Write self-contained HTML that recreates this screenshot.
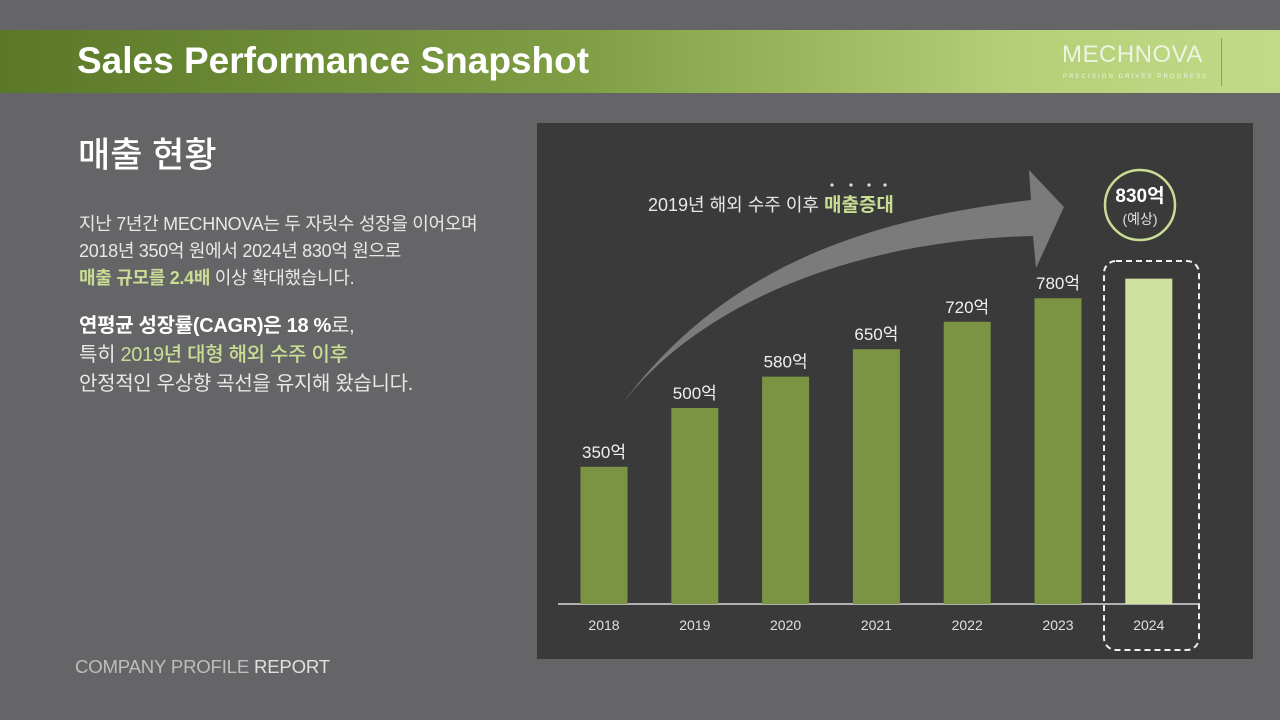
<!DOCTYPE html>
<html><head><meta charset="utf-8">
<style>
*{margin:0;padding:0;box-sizing:border-box}
body{width:1280px;height:720px;background:#656567;position:relative;overflow:hidden;font-family:"Liberation Sans","Noto Sans CJK KR",sans-serif;color:#f0f0f0}
.header{position:absolute;left:0;top:30px;width:1280px;height:63px;background:linear-gradient(90deg,#5a7828 0%,#7f9e44 45%,#b5d078 80%,#c2da88 100%)}
.title{position:absolute;left:77px;top:10px;font-size:37px;font-weight:bold;color:#fff;letter-spacing:0px}
.logo{position:absolute;left:1062px;top:11px;font-size:24px;color:#eef3e2;letter-spacing:0.5px}
.tag{position:absolute;left:1063px;top:44px;font-size:6px;color:#eef3e2;letter-spacing:2.1px}
.vline{position:absolute;left:1221px;top:8px;width:1px;height:48px;background:#8a9a6a}
.h2{position:absolute;left:78px;top:127px;font-size:35px;color:#fff;font-weight:500}
.p{position:absolute;left:79px;color:#e8e8e8;letter-spacing:-0.3px}
.hl{color:#c9dd95;font-weight:bold}
.footer{position:absolute;left:75px;top:656px;font-size:18.6px;color:#bdbdbd;letter-spacing:-0.2px}
.panel{position:absolute;left:537px;top:123px;width:716px;height:536px;background:#3a3a3a}
</style></head><body>
<div class="header">
  <div class="title">Sales Performance Snapshot</div>
  <div class="logo">MECHNOVA</div>
  <div class="tag">PRECISION DRIVES PROGRESS</div>
  <div class="vline"></div>
</div>
<div class="h2">매출 현황</div>
<div class="p" style="top:211px;font-size:18px;line-height:27px">지난 7년간 MECHNOVA는 두 자릿수 성장을 이어오며<br>2018년 350억 원에서 2024년 830억 원으로<br><span class="hl">매출 규모를 2.4배</span> 이상 확대했습니다.</div>
<div class="p" style="top:312px;font-size:20px;line-height:29px"><b style="color:#fff">연평균 성장률(CAGR)은 18 %</b>로,<br>특히 <span style="color:#c9dd95;font-weight:500">2019년 대형 해외 수주 이후</span><br>안정적인 우상향 곡선을 유지해 왔습니다.</div>
<div class="footer">COMPANY PROFILE <span style="color:#e0e0e0">REPORT</span></div>
<div class="panel"></div>
<svg id="chart" width="1280" height="720" style="position:absolute;left:0;top:0">
  <path d="M619,408 C720,270 860,220 1031,200 L1029,170 L1064,207 L1036,268 L1033,236 C860,240 700,300 619,408 Z" fill="#7b7b7b"/>
  <text x="648" y="211" font-size="18" fill="#e8e8e8" font-family="Liberation Sans, Noto Sans CJK KR, sans-serif">2019년 해외 수주 이후 <tspan fill="#c9dd95" font-weight="bold" font-size="19">매출증대</tspan></text>
  <g fill="#e0e0e0"><circle cx="832" cy="185" r="1.6"/><circle cx="851" cy="185" r="1.6"/><circle cx="869" cy="185" r="1.6"/><circle cx="885" cy="185" r="1.6"/></g>
  <rect x="1104" y="261" width="95" height="389" rx="12" fill="none" stroke="#f0f0f0" stroke-width="2" stroke-dasharray="6,4"/>
  <circle cx="1140" cy="205" r="35" fill="#3a3a3a" stroke="#c9dd95" stroke-width="2.5"/>
  <text x="1140" y="202" text-anchor="middle" font-size="19" font-weight="bold" fill="#fff" font-family="Liberation Sans, Noto Sans CJK KR, sans-serif">830억</text>
  <text x="1140" y="224" text-anchor="middle" font-size="14" fill="#e0e0e0" font-family="Liberation Sans, Noto Sans CJK KR, sans-serif">(예상)</text>
  <line x1="558" y1="604" x2="1200" y2="604" stroke="#d8d8d8" stroke-width="1.5"/>
  <g id="bars"></g>
</svg>
<script>
const categories=["2018","2019","2020","2021","2022","2023","2024"];
const values=[350,500,580,650,720,780,830];
const valueLabels=["350억","500억","580억","650억","720억","780억",""];
const highlight=[false,false,false,false,false,false,true];
const NS="http://www.w3.org/2000/svg";
const baseY=604,pxPerUnit=0.392,x0=604,step=90.8,bw=47;
function xScale(i){return x0+i*step;}
function yScale(v){return baseY-v*pxPerUnit;}
const g=document.getElementById('bars');
categories.forEach((c,i)=>{
  const r=document.createElementNS(NS,'rect');
  r.setAttribute('x',xScale(i)-bw/2);r.setAttribute('y',yScale(values[i]));
  r.setAttribute('width',bw);r.setAttribute('height',baseY-yScale(values[i]));
  r.setAttribute('fill',highlight[i]?'#cfe09f':'#7b9443');
  
  
  g.appendChild(r);
  if(valueLabels[i]){
    const t=document.createElementNS(NS,'text');
    t.setAttribute('x',xScale(i));t.setAttribute('y',yScale(values[i])-9);
    t.setAttribute('text-anchor','middle');t.setAttribute('font-size','17');t.setAttribute('fill','#f0f0f0');
    t.setAttribute('font-family','Liberation Sans, Noto Sans CJK KR, sans-serif');
    t.textContent=valueLabels[i];
    
    
    g.appendChild(t);
  }
  const xl=document.createElementNS(NS,'text');
  xl.setAttribute('x',xScale(i));xl.setAttribute('y',630);
  xl.setAttribute('text-anchor','middle');xl.setAttribute('font-size','14');xl.setAttribute('fill','#e0e0e0');
  xl.setAttribute('font-family','Liberation Sans, sans-serif');
  xl.textContent=c;
  
  
  g.appendChild(xl);
});
</script>
</body></html>
